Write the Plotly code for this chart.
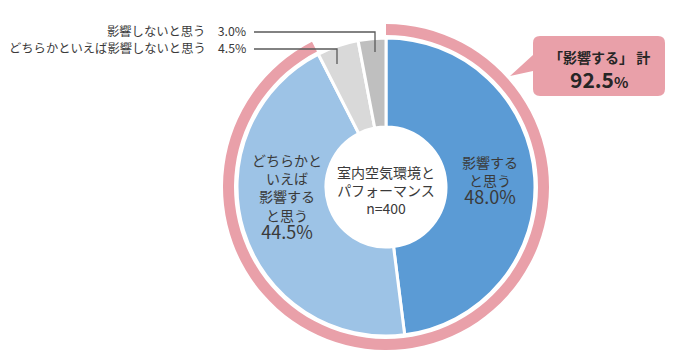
import plotly.graph_objects as go

W, H = 692, 351   # page body has an 8px margin inside the 700x359 window
OFF = 8

# ---- data ----
categories = ["影響すると思う", "どちらかといえば影響すると思う",
              "どちらかといえば影響しないと思う", "影響しないと思う"]
values = [48.0, 44.5, 4.5, 3.0]
slice_colors = ["#5B9BD5", "#9DC3E6", "#D9D9D9", "#BFBFBF"]
ring_values = [92.5, 7.5]   # 「影響する」計 vs remainder
center_title = "室内空気環境と<br>パフォーマンス<br>n=400"

FONT = "Noto Sans CJK JP"
TXT = "#3A3A3A"
PINK = "#E9A0A9"

def px(x):
    return (x - OFF) / W

def py(y):
    return 1 - (y - OFF) / H

cx, cy = 386, 187
r_in, r_out = 149, 163

def dom(r):
    return dict(x=[px(cx - r), px(cx + r)], y=[py(cy + r), py(cy - r)])

fig = go.Figure()
fig.add_trace(go.Pie(
    values=ring_values, labels=["ring", "rest"], sort=False,
    direction="clockwise", rotation=0, hole=152 / 163,
    marker=dict(colors=[PINK, "rgba(0,0,0,0)"], line=dict(width=0)),
    textinfo="none", hoverinfo="skip", domain=dom(r_out), showlegend=False,
))
fig.add_trace(go.Pie(
    values=values, labels=categories, sort=False,
    direction="clockwise", rotation=0, hole=60 / 149,
    marker=dict(colors=slice_colors, line=dict(color="white", width=3)),
    textinfo="none", domain=dom(r_in), showlegend=False,
))

ann = []
def A(x, y, text, size=14, xanchor="center", color=TXT):
    ann.append(dict(x=px(x), y=py(y), xref="paper", yref="paper", text=text,
                    showarrow=False, xanchor=xanchor, yanchor="middle",
                    font=dict(family=FONT, size=size, color=color)))

# slice labels
A(490, 180, "影響する<br>と思う<br><span style='font-size:18px'>%.1f%%</span>" % values[0])
A(287, 197, "どちらかと<br>いえば<br>影響する<br>と思う<br><span style='font-size:18px'>%.1f%%</span>" % values[1])
A(386, 190, center_title)
A(248, 31, "%s　%.1f%%" % (categories[3], values[3]), size=12.3, xanchor="right")
A(248, 48, "%s　%.1f%%" % (categories[2], values[2]), size=12.3, xanchor="right")

# callout text
A(599, 57, "<b>「影響する」 計</b>", size=14, color="#262626")
A(599, 79, "<b>%.1f<span style='font-size:15px'>%%</span></b>" % ring_values[0], size=21, color="#262626")

shapes = []
# leader lines
for pts in [[(254, 32), (375, 32), (375, 52)], [(254, 49), (337, 49), (337, 64)]]:
    d = "M %f %f " % (px(pts[0][0]), py(pts[0][1])) + " ".join(
        "L %f %f" % (px(x), py(y)) for x, y in pts[1:])
    shapes.append(dict(type="path", path=d, xref="paper", yref="paper",
                       line=dict(color="#595959", width=1.3)))

# callout box with pointer
x0, y0, x1, y1, rr = 533, 36, 665, 96, 7
pts = [
    ("M", x0 + rr, y0), ("L", x1 - rr, y0), ("Q", x1, y0, x1, y0 + rr),
    ("L", x1, y1 - rr), ("Q", x1, y1, x1 - rr, y1), ("L", x0 + rr, y1),
    ("Q", x0, y1, x0, y1 - rr), ("L", x0, 71), ("L", 510, 76), ("L", x0, 55),
    ("L", x0, y0 + rr), ("Q", x0, y0, x0 + rr, y0),
]
d = ""
for p in pts:
    cmd = p[0]
    coords = p[1:]
    d += cmd + " " + " ".join(
        "%f %f" % (px(coords[i]), py(coords[i + 1])) for i in range(0, len(coords), 2)) + " "
d += "Z"
shapes.append(dict(type="path", path=d, xref="paper", yref="paper",
                   fillcolor=PINK, line=dict(width=0)))

fig.update_layout(
    width=W, height=H, margin=dict(l=0, r=0, t=0, b=0),
    paper_bgcolor="white", plot_bgcolor="white",
    annotations=ann, shapes=shapes, showlegend=False,
)
fig.write_html("out.html")
